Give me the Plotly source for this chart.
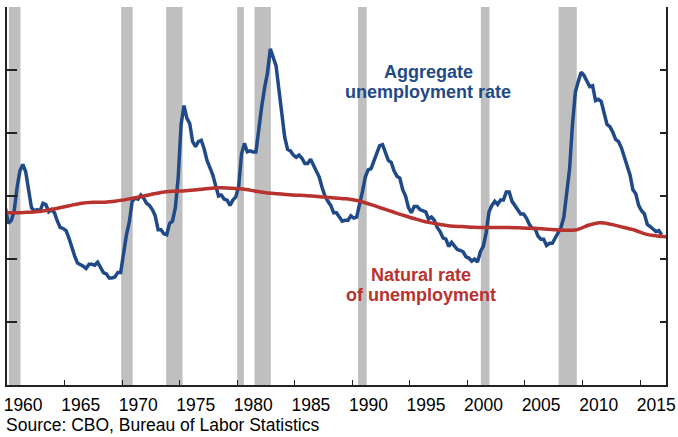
import plotly.graph_objects as go

# Quarterly aggregate unemployment rate (percent), 1959Q4 .. 2016Q4
unemp_start_year = 1959.75
unemployment = [
    5.60,
    5.13, 5.23, 5.53, 6.27,
    6.80, 7.00, 6.77, 6.20,
    5.63, 5.53, 5.57, 5.53,
    5.77, 5.73, 5.50, 5.57,
    5.47, 5.20, 5.00, 4.97,
    4.90, 4.67, 4.37, 4.10,
    3.87, 3.83, 3.77, 3.70,
    3.83, 3.83, 3.80, 3.90,
    3.73, 3.57, 3.53, 3.40,
    3.40, 3.43, 3.57, 3.57,
    4.17, 4.77, 5.17, 5.83,
    5.93, 5.90, 6.03, 5.93,
    5.77, 5.70, 5.57, 5.37,
    4.93, 4.93, 4.80, 4.77,
    5.13, 5.20, 5.63, 6.60,
    8.27, 8.87, 8.47, 8.30,
    7.73, 7.57, 7.73, 7.77,
    7.50, 7.13, 6.90, 6.67,
    6.33, 6.00, 6.03, 5.90,
    5.87, 5.70, 5.87, 5.97,
    6.30, 7.33, 7.67, 7.40,
    7.43, 7.40, 7.40, 8.23,
    8.83, 9.43, 9.90, 10.67,
    10.37, 10.13, 9.37, 8.53,
    7.87, 7.48, 7.43, 7.30,
    7.23, 7.30, 7.20, 7.03,
    7.03, 7.17, 6.97, 6.83,
    6.60, 6.27, 6.00, 5.83,
    5.70, 5.47, 5.47, 5.33,
    5.20, 5.23, 5.23, 5.37,
    5.30, 5.33, 5.70, 6.13,
    6.60, 6.83, 6.87, 7.10,
    7.37, 7.60, 7.63, 7.37,
    7.13, 7.07, 6.80, 6.63,
    6.57, 6.20, 6.00, 5.63,
    5.47, 5.67, 5.67, 5.57,
    5.53, 5.50, 5.27, 5.33,
    5.23, 5.00, 4.87, 4.67,
    4.63, 4.40, 4.53, 4.43,
    4.30, 4.27, 4.23, 4.07,
    4.03, 3.93, 4.00, 3.90,
    4.23, 4.40, 4.83, 5.50,
    5.70, 5.83, 5.73, 5.87,
    5.87, 6.13, 6.13, 5.83,
    5.70, 5.60, 5.43, 5.43,
    5.30, 5.10, 4.97, 4.97,
    4.73, 4.63, 4.63, 4.43,
    4.50, 4.50, 4.67, 4.83,
    5.00, 5.33, 6.00, 6.87,
    8.27, 9.30, 9.63, 9.93,
    9.83, 9.63, 9.47, 9.50,
    9.03, 9.07, 9.00, 8.63,
    8.27, 8.20, 8.03, 7.80,
    7.73, 7.53, 7.23, 6.93,
    6.67, 6.20, 6.07, 5.70,
    5.53, 5.43, 5.10, 5.03,
    4.93, 4.87, 4.90, 4.77,
]
unemp_years = [unemp_start_year + 0.125 + 0.25 * i for i in range(len(unemployment))]

# Natural rate of unemployment (CBO), annual, mid-year points 1959..2017
natural_years = [y + 0.5 for y in range(1959, 2018)]
natural_rate = [
    5.46, 5.47, 5.48, 5.50, 5.55, 5.62, 5.70, 5.77, 5.80, 5.80,  # 1959-1968
    5.84, 5.90, 5.97, 6.05, 6.12, 6.15, 6.17, 6.20, 6.24, 6.26,  # 1969-1978
    6.25, 6.22, 6.16, 6.10, 6.07, 6.04, 6.02, 6.00, 5.97, 5.94,  # 1979-1988
    5.91, 5.85, 5.74, 5.62, 5.50, 5.38, 5.27, 5.17, 5.10, 5.05,  # 1989-1998
    5.03, 5.01, 5.00, 5.00, 5.00, 4.99, 4.98, 4.96, 4.93, 4.91,  # 1999-2008
    4.93, 5.07, 5.15, 5.10, 5.01, 4.92, 4.79, 4.73, 4.70,        # 2009-2017
]

# NBER recessions (start, end) in fractional years
recession_starts = [1960.17, 1969.92, 1973.83, 1980.0, 1981.5, 1990.5, 2001.17, 2007.92]
recession_ends = [1961.17, 1970.92, 1975.25, 1980.58, 1982.92, 1991.25, 2001.92, 2009.5]

year_ticks = list(range(1960, 2020, 5))
year_labels = [str(y) for y in year_ticks]
label_offset = 1.4

x_range = [1960.0, 2017.25]
y_range = [0, 12]

BLUE = "#1F4A87"
RED = "#B8322E"

fig = go.Figure()

fig.add_trace(go.Scatter(
    x=unemp_years, y=unemployment, mode="lines",
    line=dict(color=BLUE, width=3.5), xaxis="x", yaxis="y",
    showlegend=False, hoverinfo="skip",
))
fig.add_trace(go.Scatter(
    x=natural_years, y=natural_rate, mode="lines",
    line=dict(color=RED, width=3.5, shape="spline", smoothing=0.8),
    xaxis="x2", yaxis="y2", showlegend=False, hoverinfo="skip",
))

for s, e in zip(recession_starts, recession_ends):
    fig.add_shape(type="rect", xref="x", yref="paper", x0=s, x1=e, y0=0, y1=1,
                  fillcolor="#BFBFBF", line=dict(width=0), layer="below")

axis_font = dict(family="Liberation Sans, Arial, sans-serif", size=17.5, color="#000")

fig.update_layout(
    width=678, height=437,
    margin=dict(l=7, r=12, t=7, b=52, autoexpand=False),
    paper_bgcolor="white", plot_bgcolor="white",
    showlegend=False,
    xaxis=dict(range=x_range, tickvals=year_ticks, ticks="inside", ticklen=5,
               tickcolor="#222", tickwidth=1, showticklabels=False,
               showline=True, linecolor="#222", linewidth=1.5, automargin=False,
               showgrid=False, zeroline=False, fixedrange=True),
    xaxis2=dict(range=x_range, overlaying="x", side="bottom", automargin=False,
                tickvals=[y + label_offset for y in year_ticks], ticktext=year_labels,
                ticks="outside", ticklen=4, tickcolor="rgba(0,0,0,0)",
                tickfont=axis_font, showline=False, showgrid=False, zeroline=False),
    yaxis=dict(range=y_range, dtick=2, ticks="inside", ticklen=10, tickcolor="#222",
               tickwidth=1.5, showticklabels=False, showline=True, linecolor="#222",
               linewidth=1.5, showgrid=False, zeroline=False, automargin=False),
    yaxis2=dict(range=y_range, dtick=2, overlaying="y", side="right", ticks="inside",
                ticklen=6, tickcolor="#222", tickwidth=1.5, showticklabels=False,
                showline=True, linecolor="#222", linewidth=1.5, showgrid=False,
                zeroline=False, automargin=False),
)

bold_font = "Liberation Sans, Arial, sans-serif"
fig.add_annotation(x=1996.6, y=9.94, xref="x", yref="y", text="<b>Aggregate</b>",
                   showarrow=False, font=dict(family=bold_font, size=18, color=BLUE))
fig.add_annotation(x=1996.6, y=9.30, xref="x", yref="y", text="<b>unemployment rate</b>",
                   showarrow=False, font=dict(family=bold_font, size=18, color=BLUE))
fig.add_annotation(x=1996.0, y=3.49, xref="x", yref="y", text="<b>Natural rate</b>",
                   showarrow=False, font=dict(family=bold_font, size=18, color=RED))
fig.add_annotation(x=1996.0, y=2.86, xref="x", yref="y", text="<b>of unemployment</b>",
                   showarrow=False, font=dict(family=bold_font, size=18, color=RED))

fig.add_annotation(x=0, y=-0.106, xref="paper", yref="paper", xanchor="left",
                   yanchor="middle", xshift=-3, showarrow=False,
                   text="Source: CBO, Bureau of Labor Statistics",
                   font=dict(family=bold_font, size=17.5, color="#000"))

fig.write_html("out.html", config={"displayModeBar": False},
               post_script="document.body.style.margin='0';")
